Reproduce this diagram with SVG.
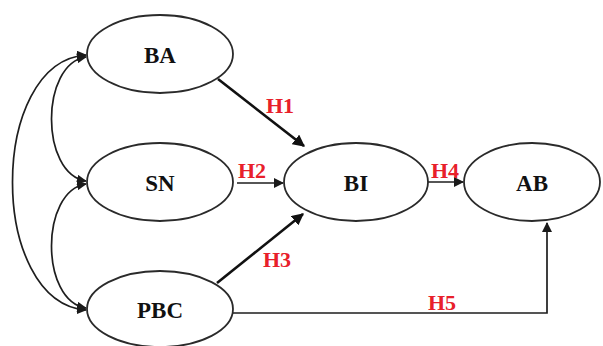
<svg xmlns="http://www.w3.org/2000/svg" width="603" height="346" viewBox="0 0 603 346">
<defs>
<marker id="ah" viewBox="0 0 10 10" refX="9" refY="5" markerWidth="10" markerHeight="10" markerUnits="userSpaceOnUse" orient="auto-start-reverse">
<path d="M0,0 L10,5 L0,10 Z" fill="#1a1a1a"/>
</marker>
<marker id="ahb" viewBox="0 0 10 10" refX="9" refY="5" markerWidth="12" markerHeight="12" markerUnits="userSpaceOnUse" orient="auto">
<path d="M0,0 L10,5 L0,10 Z" fill="#111"/>
</marker>
<style>
.node ellipse{fill:#fff;stroke:#2a2a2a;stroke-width:1.8}
.node text{font-family:"Liberation Serif","Times New Roman",serif;font-weight:bold;font-size:23px;fill:#111;text-anchor:middle;dominant-baseline:central}
.lbl{font-family:"Liberation Serif","Times New Roman",serif;font-weight:bold;font-size:22px;fill:#e8202a;text-anchor:middle;dominant-baseline:central}
.c{fill:none;stroke:#1e1e1e;stroke-width:1.7}
.t{fill:none;stroke:#111;stroke-width:2.6}
</style>
</defs>
<rect width="603" height="346" fill="#fff"/>
<g id="connectors">
<path class="c" d="M86,55 C-12,62 -12,302 86,310" marker-start="url(#ah)" marker-end="url(#ah)"/>
<path class="c" d="M86,57 C40,64 40,174 86,181" marker-start="url(#ah)" marker-end="url(#ah)"/>
<path class="c" d="M86,184 C40,191 40,301 86,308" marker-start="url(#ah)" marker-end="url(#ah)"/>
<path class="t" d="M218,79 L304,146" marker-end="url(#ahb)"/>
<path class="c" d="M237,183 L283,183" marker-end="url(#ah)"/>
<path class="t" d="M217,283 L303,214" marker-end="url(#ahb)"/>
<path class="c" d="M428,182 L463,182" marker-end="url(#ah)"/>
<path class="c" d="M233,313 L547,313 L547,223" marker-end="url(#ah)"/>
</g>
<g id="BA" class="node"><ellipse cx="160" cy="54" rx="73" ry="39"/><text x="160" y="55">BA</text></g>
<g id="SN" class="node"><ellipse cx="160" cy="182" rx="73" ry="39"/><text x="160" y="183">SN</text></g>
<g id="PBC" class="node"><ellipse cx="160" cy="309" rx="73" ry="38"/><text x="160" y="310">PBC</text></g>
<g id="BI" class="node"><ellipse cx="356" cy="182" rx="72" ry="39"/><text x="356" y="183">BI</text></g>
<g id="AB" class="node"><ellipse cx="532" cy="182" rx="68" ry="39"/><text x="532" y="183">AB</text></g>
<g id="labels">
<text class="lbl" x="280" y="105">H1</text>
<text class="lbl" x="252" y="170">H2</text>
<text class="lbl" x="277" y="259">H3</text>
<text class="lbl" x="445" y="170">H4</text>
<text class="lbl" x="442" y="302">H5</text>
</g>
</svg>
